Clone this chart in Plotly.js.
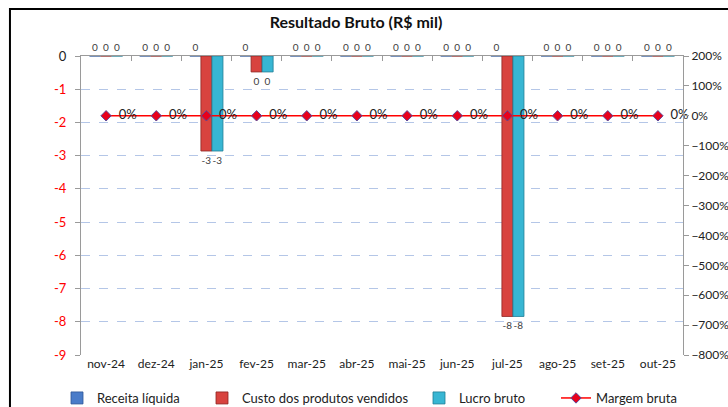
<!DOCTYPE html>
<html>
<head>
<meta charset="utf-8">
<script src="https://cdn.plot.ly/plotly-3.0.1.min.js"></script>
<style>html,body{margin:0;padding:0;background:#fff;}#chart{width:728px;height:407px;}</style>
</head>
<body>
<div id="chart"></div>
<script>
const months = ['nov-24','dez-24','jan-25','fev-25','mar-25','abr-25','mai-25','jun-25','jul-25','ago-25','set-25','out-25'];
const receitaLiquida = [0,0,0,0,0,0,0,0,0,0,0,0];
const custoProdutos = [0,0,-2.86,-0.48,0,0,0,0,-7.84,0,0,0];
const lucroBruto = [0,0,-2.86,-0.48,0,0,0,0,-7.84,0,0,0];
const margemBruta = [0,0,0,0,0,0,0,0,0,0,0,0];
const leftTicks = [0,-1,-2,-3,-4,-5,-6,-7,-8,-9];

const FONT = 'Lato, "Open Sans", sans-serif';
const barText = {size: 10, color: '#404040', family: FONT};

const traces = [
  {type:'bar', name:'Receita líquida', x:months, y:receitaLiquida, legend:'legend',
   marker:{color:'#4A7CC9', line:{color:'#2F5597', width:0.8}},
   texttemplate:'%{y:.0f}', textposition:'outside', textfont:barText, cliponaxis:false, hoverinfo:'skip'},
  {type:'bar', name:'Custo dos produtos vendidos', x:months, y:custoProdutos, legend:'legend2',
   marker:{color:'#D8433F', line:{color:'#8E2522', width:0.8}},
   texttemplate:'%{y:.0f}', textposition:'outside', textfont:barText, cliponaxis:false, hoverinfo:'skip'},
  {type:'bar', name:'Lucro bruto', x:months, y:lucroBruto, legend:'legend3',
   marker:{color:'#38B6D3', line:{color:'#1F7E95', width:0.8}},
   texttemplate:'%{y:.0f}', textposition:'outside', textfont:barText, cliponaxis:false, hoverinfo:'skip'},
  {type:'scatter', name:'Margem bruta', x:months, y:margemBruta, xaxis:'x2', yaxis:'y2', legend:'legend4',
   mode:'lines+markers+text', line:{color:'#FF0000', width:1.5},
   marker:{symbol:'diamond', size:8, color:'#E8001C', line:{color:'#5A4A9A', width:1}},
   texttemplate:'\u00a0\u00a0%{y:.0f}%', textposition:'middle right',
   textfont:{size:13, color:'#222', family:FONT}, cliponaxis:false, hoverinfo:'skip'}
];

function leg(xpx) {
  return {orientation:'h', x:xpx/728, xref:'container', xanchor:'left', y:9/407, yref:'container', yanchor:'middle',
          font:{size:13, family:FONT, color:'#222'}, itemwidth:30, bgcolor:'rgba(0,0,0,0)'};
}

const layout = {
  width:728, height:407,
  margin:{l:81, r:45, t:56, b:52},
  paper_bgcolor:'#fff', plot_bgcolor:'#fff',
  font:{family:FONT, color:'#222', size:12},
  title:{text:'<b>Resultado Bruto (R$ mil)</b>', x:356/728, xref:'container', y:1-22/407, yref:'container',
         xanchor:'center', yanchor:'middle', font:{size:16, family:FONT, color:'#111'}},
  barmode:'group', bargap:0.34, bargroupgap:0,
  showlegend:true,
  legend:leg(57), legend2:leg(202), legend3:leg(419), legend4:leg(556),
  xaxis:{type:'category', categoryarray:months, showline:false, ticks:'', showgrid:false,
         tickfont:{size:12, family:FONT, color:'#222'}, zeroline:false, fixedrange:true},
  xaxis2:{type:'category', categoryarray:months, overlaying:'x', anchor:'y2', side:'top',
          range:[-0.5, 11.5], showline:true, linecolor:'#9a9a9a', linewidth:1,
          ticks:'inside', tickson:'boundaries', ticklen:5, tickcolor:'#9a9a9a',
          showticklabels:false, showgrid:false, zeroline:false},
  yaxis:{range:[-9, 0], tickvals:leftTicks,
         ticktext:leftTicks.map(v => v < 0 ? '<span style="color:#FF0000">' + v + '</span>' : String(v)),
         showline:true, linecolor:'#9a9a9a', linewidth:1, ticks:'outside', ticklen:5, tickcolor:'#9a9a9a',
         showgrid:true, gridcolor:'#B4C6E7', griddash:'dash', gridwidth:1, zeroline:false,
         tickfont:{size:13, family:FONT, color:'#222'}, ticklabelstandoff:6},
  yaxis2:{range:[-800, 200], dtick:100, ticksuffix:'%', overlaying:'y', side:'right',
          showline:true, linecolor:'#9a9a9a', linewidth:1, ticks:'outside', ticklen:5, tickcolor:'#9a9a9a',
          showgrid:false, zeroline:false, tickfont:{size:12, family:FONT, color:'#222'}},
  shapes:[{type:'rect', xref:'paper', yref:'paper', x0:-0.118, x1:1.3, y0:-0.4, y1:1.157,
           line:{color:'#000', width:2}, fillcolor:'rgba(0,0,0,0)', layer:'above'}]
};

Plotly.newPlot('chart', traces, layout, {displayModeBar:false, staticPlot:true});
</script>
</body>
</html>
